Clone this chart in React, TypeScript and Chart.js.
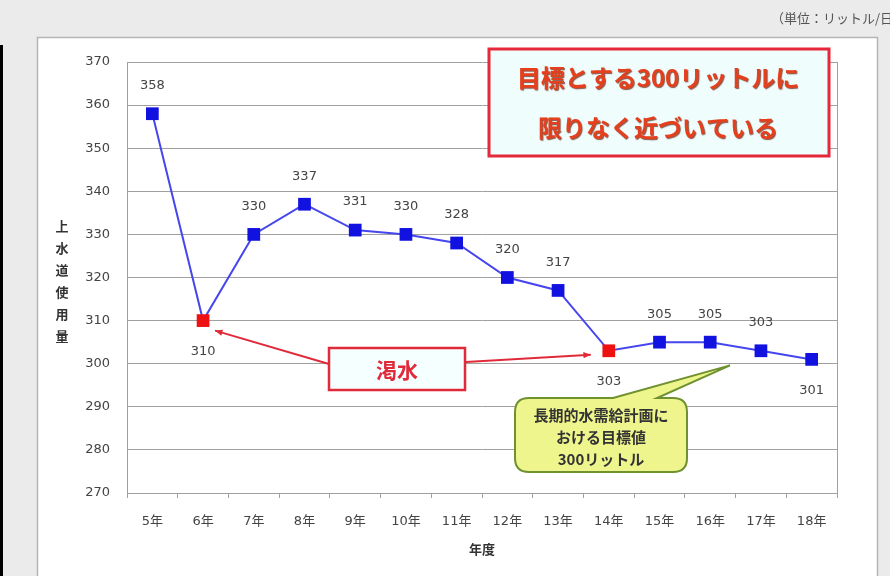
import React, { useEffect, useRef } from "react";
import { Chart, registerables } from "chart.js";

Chart.register(...registerables);

const categories = ["5年", "6年", "7年", "8年", "9年", "10年", "11年", "12年", "13年", "14年", "15年", "16年", "17年", "18年"];
const usage = [358, 310, 330, 337, 331, 330, 328, 320, 317, 303, 305, 305, 303, 301];
const droughtYears = ["6年", "14年"];
const labelsBelow = ["6年", "14年", "18年"];
const yMin = 270;
const yMax = 370;
const yStep = 10;
const yTitle = "上水道使用量";
const xTitle = "年度";
const unitText = "（単位：リットル/日）";
const headline = ["目標とする300リットルに", "限りなく近づいている"];
const droughtLabel = "渇水";
const targetNote = ["長期的水需給計画に", "おける目標値", "300リットル"];

const JP = "'Noto Sans CJK JP', 'Noto Sans', sans-serif";
const NUM = "'DejaVu Sans', 'Noto Sans CJK JP', sans-serif";

function arrow(ctx: CanvasRenderingContext2D, x1: number, y1: number, x2: number, y2: number) {
  ctx.beginPath();
  ctx.moveTo(x1, y1);
  ctx.lineTo(x2, y2);
  ctx.stroke();
  const a = Math.atan2(y2 - y1, x2 - x1);
  const L = 8;
  ctx.beginPath();
  ctx.moveTo(x2, y2);
  ctx.lineTo(x2 - L * Math.cos(a - 0.4), y2 - L * Math.sin(a - 0.4));
  ctx.lineTo(x2 - L * Math.cos(a + 0.4), y2 - L * Math.sin(a + 0.4));
  ctx.closePath();
  ctx.fill();
}

const backgroundPlugin = {
  id: "bgFrame",
  beforeDraw(chart: any) {
    const ctx = chart.ctx as CanvasRenderingContext2D;
    ctx.save();
    ctx.fillStyle = "#ebebeb";
    ctx.fillRect(0, 0, chart.width, chart.height);
    ctx.fillStyle = "#ffffff";
    ctx.fillRect(37, 37, 841, 540);
    ctx.strokeStyle = "#b5b5b5";
    ctx.lineWidth = 1.5;
    ctx.beginPath();
    ctx.moveTo(37.5, 577);
    ctx.lineTo(37.5, 37.5);
    ctx.lineTo(877.5, 37.5);
    ctx.lineTo(877.5, 577);
    ctx.stroke();
    ctx.fillStyle = "#000000";
    ctx.fillRect(0, 45, 3, 531);
    ctx.fillStyle = "#555";
    ctx.font = `13px ${JP}`;
    ctx.textBaseline = "middle";
    ctx.textAlign = "left";
    ctx.fillText(unitText, 771, 18);
    ctx.restore();
  },
};

const overlayPlugin = {
  id: "overlay",
  afterDatasetsDraw(chart: any) {
    const ctx = chart.ctx as CanvasRenderingContext2D;
    const ca = chart.chartArea;
    const meta = chart.getDatasetMeta(0);
    ctx.save();
    // plot border right
    ctx.strokeStyle = "#a0a0a0";
    ctx.lineWidth = 1;
    ctx.beginPath();
    ctx.moveTo(Math.round(ca.right) + 0.5, ca.top);
    ctx.lineTo(Math.round(ca.right) + 0.5, ca.bottom);
    ctx.stroke();

    // value labels
    ctx.fillStyle = "#444";
    ctx.font = `13px ${NUM}`;
    ctx.textAlign = "center";
    ctx.textBaseline = "middle";
    meta.data.forEach((pt: any, i: number) => {
      const below = labelsBelow.includes(categories[i]);
      ctx.fillText(String(usage[i]), pt.x, below ? pt.y + 31 : pt.y - 28);
    });

    // axis titles
    ctx.fillStyle = "#333";
    ctx.font = `bold 13px ${JP}`;
    Array.from(yTitle).forEach((ch, i) => {
      ctx.fillText(ch, 62, 226 + i * 22);
    });
    ctx.fillText(xTitle, (ca.left + ca.right) / 2, 549);

    // headline box
    ctx.fillStyle = "#effdfd";
    ctx.fillRect(489, 49, 340, 107);
    ctx.strokeStyle = "#e5283a";
    ctx.lineWidth = 3;
    ctx.strokeRect(489, 49, 340, 107);
    ctx.font = `bold 24px ${JP}`;
    ctx.shadowColor = "rgba(90,20,0,0.7)";
    ctx.shadowOffsetX = 1;
    ctx.shadowOffsetY = 1;
    ctx.shadowBlur = 1;
    ctx.fillStyle = "#e4401e";
    ctx.fillText(headline[0], 658, 78);
    ctx.fillText(headline[1], 658, 128);
    ctx.shadowColor = "transparent";
    ctx.shadowOffsetX = 0;
    ctx.shadowOffsetY = 0;
    ctx.shadowBlur = 0;

    // drought box + arrows
    const i1 = categories.indexOf(droughtYears[0]);
    const i2 = categories.indexOf(droughtYears[1]);
    const p1 = meta.data[i1];
    const p2 = meta.data[i2];
    ctx.strokeStyle = "#e02a3a";
    ctx.fillStyle = "#e02a3a";
    ctx.lineWidth = 2;
    arrow(ctx, 329, 364, p1.x + 12, p1.y + 10);
    arrow(ctx, 466, 362, p2.x - 18, p2.y + 4);
    ctx.fillStyle = "#f6ffff";
    ctx.fillRect(329, 348, 136, 42);
    ctx.lineWidth = 2.5;
    ctx.strokeRect(329, 348, 136, 42);
    ctx.fillStyle = "#e02a3a";
    ctx.font = `bold 21px ${JP}`;
    ctx.fillText(droughtLabel, 397, 370);

    // target callout
    const tipPt = chart.scales.y.getPixelForValue(usage[usage.length - 1]);
    const tipX = 730;
    const tipY = tipPt + 6;
    const bx = 515, by = 398, bw = 172, bh = 74, r = 14;
    ctx.beginPath();
    ctx.moveTo(bx + r, by);
    ctx.lineTo(613, by);
    ctx.lineTo(tipX, tipY);
    ctx.lineTo(657, by);
    ctx.lineTo(bx + bw - r, by);
    ctx.quadraticCurveTo(bx + bw, by, bx + bw, by + r);
    ctx.lineTo(bx + bw, by + bh - r);
    ctx.quadraticCurveTo(bx + bw, by + bh, bx + bw - r, by + bh);
    ctx.lineTo(bx + r, by + bh);
    ctx.quadraticCurveTo(bx, by + bh, bx, by + bh - r);
    ctx.lineTo(bx, by + r);
    ctx.quadraticCurveTo(bx, by, bx + r, by);
    ctx.closePath();
    ctx.fillStyle = "#eef58c";
    ctx.fill();
    ctx.strokeStyle = "#6f9130";
    ctx.lineWidth = 2;
    ctx.stroke();
    ctx.fillStyle = "#333";
    ctx.font = `bold 15px ${JP}`;
    ctx.fillText(targetNote[0], 601, 415);
    ctx.fillText(targetNote[1], 601, 437);
    ctx.fillText(targetNote[2], 601, 459);
    ctx.restore();
  },
};

export default function App() {
  const ref = useRef<HTMLCanvasElement | null>(null);
  useEffect(() => {
    if (!ref.current) return;
    const pointColors = categories.map((c) => (droughtYears.includes(c) ? "#ee1111" : "#1111e0"));
    const chart = new Chart(ref.current, {
      type: "line",
      data: {
        labels: categories,
        datasets: [
          {
            data: usage,
            borderColor: "#4646ee",
            borderWidth: 2,
            pointStyle: "rect",
            pointRadius: 9,
            pointBackgroundColor: pointColors,
            pointBorderColor: pointColors,
            pointBorderWidth: 0,
            tension: 0,
          },
        ],
      },
      options: {
        responsive: false,
        animation: false,
        layout: { padding: { left: 0, top: 62, right: 53, bottom: 0 } },
        plugins: { legend: { display: false }, tooltip: { enabled: false } },
        scales: {
          x: {
            offset: true,
            afterFit(scale: any) {
              scale.height = 83;
            },
            grid: { drawOnChartArea: false, drawTicks: true, tickLength: 5, color: "#a0a0a0", offset: true },
            border: { color: "#a0a0a0" },
            ticks: { color: "#444", font: { size: 13, family: NUM }, padding: 16, maxRotation: 0, autoSkip: false },
          },
          y: {
            min: yMin,
            max: yMax,
            afterFit(scale: any) {
              scale.width = 127;
            },
            grid: { color: "#a0a0a0", drawTicks: false },
            border: { color: "#a0a0a0" },
            ticks: { stepSize: yStep, color: "#444", font: { size: 13, family: NUM }, padding: 17 },
          },
        },
      },
      plugins: [backgroundPlugin, overlayPlugin],
    });
    return () => chart.destroy();
  }, []);
  return (
    <div style={{ position: "fixed", left: 0, top: 0, width: 890, height: 576 }}>
      <canvas ref={ref} width={890} height={576} />
    </div>
  );
}
